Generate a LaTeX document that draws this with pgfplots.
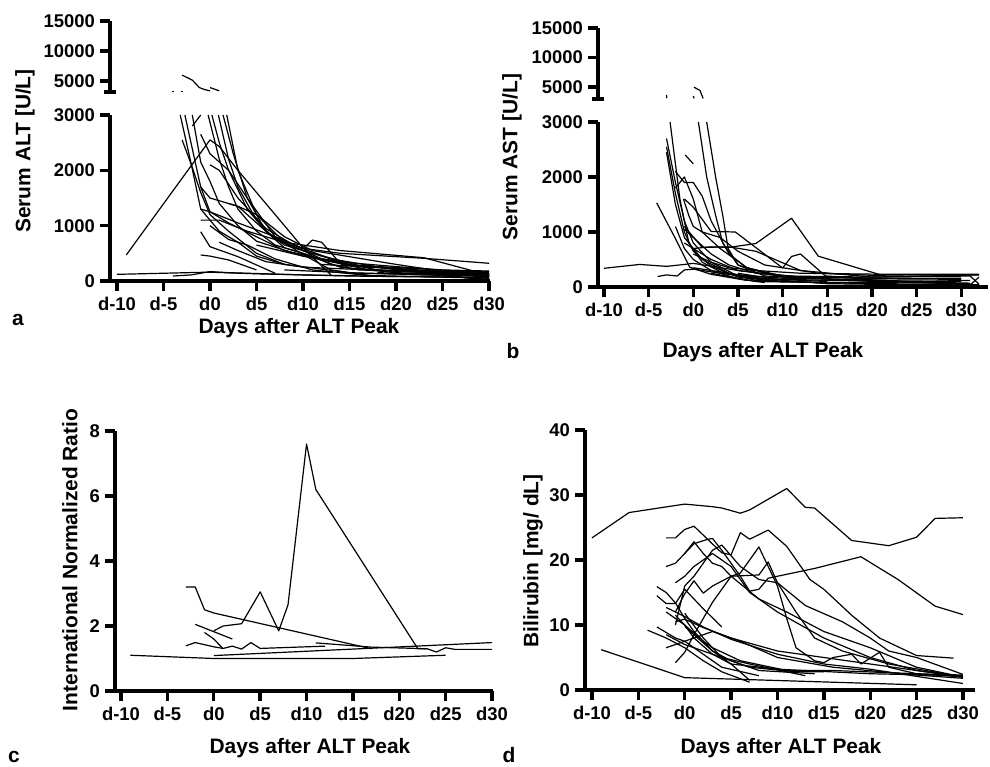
\documentclass[border=0pt]{standalone}
\usepackage{fontspec}
\setmainfont{Liberation Sans}
\usepackage{pgfplots}
\pgfplotsset{compat=1.18}

\pgfplotsset{
  prism/.style={
    scale only axis, axis lines=left,
    axis line style={line width=3.4bp,-},
    every tick/.style={line width=3.4bp, black},
    major tick length=10bp, tick align=outside,
    xtick={-10,-5,...,30},
    xticklabels={d-10,d-5,d0,d5,d10,d15,d20,d25,d30},
    ticklabel style={font=\fontsize{18.5}{20}\selectfont\bfseries, inner sep=1bp},
    xticklabel style={yshift=-5bp},
    yticklabel style={xshift=-4bp},
    /pgf/number format/assume math mode=true,
    /pgf/number format/1000 sep={},
    scaled y ticks=false,
    clip=true,
  },
  upper/.style={
    scale only axis, axis x line=none, axis y line=left,
    axis line style={line width=3.4bp,-},
    every tick/.style={line width=3.4bp, black},
    major tick length=10bp, tick align=outside,
    ytick={5000,10000,15000},
    extra y tick style={tick align=center, major tick length=12bp},
    extra y tick labels={},
    ticklabel style={font=\fontsize{18.5}{20}\selectfont\bfseries, inner sep=1bp},
    yticklabel style={xshift=-4bp},
    /pgf/number format/assume math mode=true,
    /pgf/number format/1000 sep={},
    scaled y ticks=false,
  },
  ln/.style={black, line width=1.2bp, line join=round},
}
\newcommand{\lab}{\fontsize{21}{24}\selectfont\bfseries}

\begin{document}
\begin{tikzpicture}
\path[use as bounding box] (0,0) rectangle (990bp,767bp);

% ---- a: ALT, lower part
\begin{axis}[prism, anchor=south west, at={(110bp,486bp)},
  width=380bp, height=166bp, xmin=-10.75, xmax=30.1,
  ymin=0, ymax=3000, ytick={0,1000,2000,3000}]
\addplot[ln] coordinates {(-9,470) (0,2550) (1,2430) (3,2000) (10,600) (13,110)};
\addplot[ln] coordinates {(-10,120) (-5,140) (0,160) (5,130) (15,90) (30,60)};
\addplot[ln] coordinates {(-4,90) (-2,110) (0,170) (2,150) (10,110) (20,80) (30,100)};
\addplot[ln] coordinates {(-3.2,3000) (-2,2100) (-1,1300) (1,900) (3,700) (5,450) (8,300) (15,150) (30,80)};
\addplot[ln] coordinates {(-2.7,3000) (-1,1700) (0,1250) (2,1050) (5,800) (8,550) (12,400) (17,200) (30,100)};
\addplot[ln] coordinates {(-1.9,3000) (-1,2150) (0,1800) (1,1400) (3,1000) (5,720) (10,450) (15,280) (30,120)};
\addplot[ln] coordinates {(-1.9,2800) (-1,3000)};
\addplot[ln] coordinates {(-0.2,3000) (1,2200) (2,1700) (3,1300) (5,900) (7,650) (10,500) (14,250) (20,150) (30,100)};
\addplot[ln] coordinates {(0.2,3000) (1,2500) (2,2000) (4,1300) (6,900) (8,600) (11,450) (13,300) (16,200) (30,120)};
\addplot[ln] coordinates {(0.9,3000) (2,2200) (3,1700) (5,1100) (7,750) (10,550) (15,300) (22,180) (30,140)};
\addplot[ln] coordinates {(1.4,3000) (2.5,2300) (4,1500) (6,900) (8,650) (11,500) (16,280) (30,150)};
\addplot[ln] coordinates {(1.8,3000) (3,2000) (5,1200) (8,700) (12,400) (18,200) (30,130)};
\addplot[ln] coordinates {(-1,2650) (0,2300) (1,2150) (2,2000) (4,1500) (7,800) (10,580) (11,740) (12,700) (14,320) (15,230) (30,90)};
\addplot[ln] coordinates {(-1,1300) (0,1250) (3,1050) (7,800) (10,590) (14,500) (23,410) (30,320)};
\addplot[ln] coordinates {(-1,1100) (1,1100) (4,900) (8,700) (14,550) (23,420) (29,150) (30,100)};
\addplot[ln] coordinates {(-1,890) (0,620) (3,440) (7,140)};
\addplot[ln] coordinates {(-1,470) (0,450) (2,380) (5,200)};
\addplot[ln] coordinates {(-3,2550) (-2,2100) (-1,1600) (0,1200) (2,900) (5,500) (8,300)};
\addplot[ln] coordinates {(0,2100) (1,2000) (3,1500) (6,950) (9,650) (13,400) (20,200) (30,80)};
\addplot[ln] coordinates {(-1,1700) (0,1500) (1,1450) (3,1350) (6,900) (10,480) (13,200) (18,80)};
\addplot[ln] coordinates {(0,1000) (2,750) (4,650) (7,400) (11,200) (17,100) (30,50)};
\addplot[ln] coordinates {(1,700) (3,550) (6,350) (10,250) (20,180) (30,170)};
\addplot[ln] coordinates {(2,1400) (3,1350) (5,1200) (8,800) (11,550) (20,300) (28,100) (30,60)};
\addplot[ln] coordinates {(5,650) (10,450) (15,330) (20,260) (25,200) (30,180)};
\addplot[ln] coordinates {(12,300) (20,220) (25,150) (30,100)};
\addplot[ln] coordinates {(18,150) (25,120) (28,50) (30,30)};
\addplot[ln] coordinates {(8,200) (16,140) (24,110) (30,20)};
\end{axis}
% ---- a: ALT, upper part
\begin{axis}[upper, anchor=south west, at={(110bp,675bp)},
  width=380bp, height=71bp, xmin=-10.75, xmax=30.1,
  ymin=3200, ymax=15000, extra y ticks={3200}]
\addplot[ln] coordinates {(-3,6000) (-1.9,5170) (-1.15,3940) (-0.6,3610) (0,3390)};
\addplot[ln] coordinates {(0,3940) (1,3390)};
\addplot[ln] coordinates {(-4.1,3230) (-3.9,3230)};
\addplot[ln] coordinates {(-3.1,3230) (-2.9,3230)};
\end{axis}

% ---- b: AST, lower part
\begin{axis}[prism, anchor=south west, at={(598bp,480bp)},
  width=390bp, height=165bp, xmin=-10.67, xmax=33,
  ymin=0, ymax=3000, ytick={0,1000,2000,3000}]
\addplot[ln] coordinates {(-10,340) (-6,410) (-3,375) (-1,410) (0,430) (2,380) (5,300) (10,200) (20,180) (32,220)};
\addplot[ln] coordinates {(-4,190) (-3,220) (-1.8,200) (-1,310) (0,325) (3,250) (8,150) (15,100)};
\addplot[ln] coordinates {(-4.1,1530) (-2,880) (-0.4,360) (2,230) (6,120)};
\addplot[ln] coordinates {(-2.6,3000) (-1.5,1600) (-0.5,800) (1,450) (3,280) (7,120) (14,80)};
\addplot[ln] coordinates {(-3,2700) (-2,1900) (-1,1200) (0,800) (2,450) (5,200) (10,100) (20,60) (30,50)};
\addplot[ln] coordinates {(-3,2550) (-2,1700) (-1,1000) (0,650) (2,380) (5,180) (10,90)};
\addplot[ln] coordinates {(-3,2450) (-2,1500) (-1,900) (1,500) (4,250) (8,150) (15,120) (25,100) (31,120)};
\addplot[ln] coordinates {(-2,2100) (-1,1900) (0,1900) (1,1650) (2,1200) (3,900) (4,600) (6,350) (10,200) (20,150) (30,160)};
\addplot[ln] coordinates {(-2,1800) (-1,2000) (0,1600) (1,1000) (3,700) (6,350) (10,180) (18,120) (30,100)};
\addplot[ln] coordinates {(-1.1,1600) (-0.5,1300) (0,1100) (1,1000) (3,900) (5,650) (8,400) (14,250) (22,200) (30,190)};
\addplot[ln] coordinates {(-0.9,2400) (0,2240)};
\addplot[ln] coordinates {(0.57,3000) (1.5,2000) (2.5,1300) (3.3,800) (5,400) (8,250) (12,180)};
\addplot[ln] coordinates {(1.5,3000) (2.5,2000) (3.3,1300) (3.9,700) (5,400) (8,200) (14,150)};
\addplot[ln] coordinates {(0,700) (2,730) (4,720) (7,790) (11,1250) (14,560) (21,220) (32,220)};
\addplot[ln] coordinates {(-1,1600) (0,1450) (2,1010) (4.7,1000) (7.3,680) (10,345) (11,555) (12,600) (14.8,200) (20,150) (30,140)};
\addplot[ln] coordinates {(-1,1050) (0,900) (2,600) (4,400) (7,250) (12,180) (22,160) (30,150)};
\addplot[ln] coordinates {(-1,800) (0,700) (2,500) (5,300) (10,200) (20,100) (31,60)};
\addplot[ln] coordinates {(-2,1100) (-1,700) (0,500) (2,300) (5,150) (8,80)};
\addplot[ln] coordinates {(0,350) (2,300) (5,220) (10,160) (20,130) (31,40) (32,180)};
\addplot[ln] coordinates {(0,600) (2,450) (4,350) (7,300) (12,250) (22,230) (32,230)};
\addplot[ln] coordinates {(-1,1100) (1,720) (4,730) (7,650) (12,300) (20,180) (31,200) (32,50)};
\addplot[ln] coordinates {(5,250) (10,120) (15,60) (25,40) (32,40)};
\addplot[ln] coordinates {(2,250) (7,100) (15,80) (25,90) (31,70)};
\end{axis}
% ---- b: AST, upper part
\begin{axis}[upper, anchor=south west, at={(598bp,668bp)},
  width=390bp, height=71bp, xmin=-10.67, xmax=33,
  ymin=3000, ymax=15000, extra y ticks={3000}]
\addplot[ln] coordinates {(0.07,5000) (0.75,4440) (1.1,3100)};
\addplot[ln] coordinates {(-3,3700) (-2.97,3150)};
\addplot[ln] coordinates {(0,3500) (0.1,3100)};
\end{axis}

% ---- c: INR
\begin{axis}[prism, anchor=south west, at={(115bp,76bp)},
  width=378bp, height=260bp, xmin=-10.65, xmax=30.1,
  ymin=0, ymax=8, ytick={0,2,4,6,8}]
\addplot[ln] coordinates {(-3,3.2) (-2,3.2) (-1,2.5) (0,2.4) (17,1.3)};
\addplot[ln] coordinates {(0,1.85) (1,2.0) (3,2.07) (5,3.05) (7,1.85) (8,2.65) (10,7.6) (11,6.2) (22,1.3) (23,1.3)};
\addplot[ln] coordinates {(-2,2.05) (2,1.6)};
\addplot[ln] coordinates {(-1,1.8) (0,1.6) (1,1.3)};
\addplot[ln] coordinates {(-3,1.39) (-2,1.49) (0,1.36) (1,1.31) (2,1.38) (3,1.29) (4,1.49) (5,1.31) (12,1.38)};
\addplot[ln] coordinates {(-9,1.1) (0,1.0) (15,1.0) (25,1.1)};
\addplot[ln] coordinates {(0,1.09) (30,1.49)};
\addplot[ln] coordinates {(11,1.48) (17,1.35) (23,1.3) (24,1.2) (25,1.33) (26,1.28) (30,1.28)};
\end{axis}

% ---- d: bilirubin
\begin{axis}[prism, anchor=south west, at={(585bp,77bp)},
  width=390bp, height=260bp, xmin=-10.75, xmax=31.3,
  ymin=0, ymax=40, ytick={0,10,20,30,40}]
\addplot[ln] coordinates {(-10,23.4) (-6,27.3) (0,28.6) (3,28.2) (4,28.0) (6,27.2) (7,27.7) (11,31.0) (13,28.1) (14,28.0) (18,23.0) (22,22.2) (25,23.5) (27,26.4) (30,26.5)};
\addplot[ln] coordinates {(-2,23.4) (-1,23.4) (0,24.7) (1,25.2) (4,21.1) (5,20.8) (6,24.2) (7,23.2) (9,24.6) (11,22.1) (13.5,17.0) (15,15.5) (18,11.5) (21,8) (25,5.3) (29,4.9)};
\addplot[ln] coordinates {(-2,19.0) (-1,19.5) (1,22.5) (2.5,23.2) (3,23.3) (4,21.5) (6,17.5) (7,15.2) (8,15.5) (9,17.2) (14,18.7) (19,20.5) (23,17) (27,12.9) (30,11.6)};
\addplot[ln] coordinates {(-1,4.2) (0,5.8) (1,8.5) (3,13.5) (5,17.5) (6,18) (8,22) (10,16) (11,11) (12,6.5) (14,4.5) (15,4.2) (16,5) (18,5.5) (19,4) (21,5.8) (22,3.5) (25,2.5) (30,2.3)};
\addplot[ln] coordinates {(-2,12.7) (-1,12.0) (0,14.8) (1,16.8) (2,14.9) (3,16) (5,17.5) (8,17.7) (9,19.7) (10,16.5) (12,12) (14,8) (17,6) (22,4) (30,2)};
\addplot[ln] coordinates {(0,21) (1,22.8) (2,21) (3,19.5) (4,19) (5,17.5) (8,14) (11,12) (15,9) (20,6.5) (25,3.5) (30,2)};
\addplot[ln] coordinates {(-1,10) (0,16) (1,17.5) (3,21.5) (4,22.3) (6,19) (8,17) (10,16.5) (13,13) (17,10.5) (20,8) (22,6) (25,5) (30,2.4)};
\addplot[ln] coordinates {(-1,16.5) (0,17.5) (1,19) (3,21) (5,19) (7,15) (10,12) (15,8) (20,5) (25,3) (30,2)};
\addplot[ln] coordinates {(-3,14.5) (-2,13.3) (-1,13.3) (0,15.5) (2,12.5) (4,9.7)};
\addplot[ln] coordinates {(-3,15.9) (-2,15.0) (-1,13.4) (0,11.0) (1,9) (3,6) (5,4.5) (8,3) (14,2.5)};
\addplot[ln] coordinates {(-9,6.2) (0,1.9) (25,0.8)};
\addplot[ln] coordinates {(-4,9.2) (-2,8.0) (0,6.5) (2,4.5) (4,2.8) (7,1.2)};
\addplot[ln] coordinates {(-3,9.7) (-1,8) (0,7.5) (2,5.5) (4,3.5) (8,2.2)};
\addplot[ln] coordinates {(-1,12) (0,11.3) (2,9.7) (5,7.8) (10,5.5) (15,4.0) (20,3.2) (30,1.0)};
\addplot[ln] coordinates {(-1,10.5) (0,10.9) (2,9.6) (5,8.0) (10,6.0) (15,5.0) (20,4.0) (25,3) (30,2)};
\addplot[ln] coordinates {(-2,6.5) (-1,7) (0,7.5) (2,8.5) (3,9) (6,7.5) (10,5) (16,3.5) (25,2.3) (30,1.8)};
\addplot[ln] coordinates {(-1,11.5) (0,10) (1,8) (3,5.5) (5,4) (10,3.2) (20,2.5) (30,2.2)};
\addplot[ln] coordinates {(-2,8.5) (0,7) (2,6) (4,5) (7,4) (13,2.2)};
\addplot[ln] coordinates {(0,11.8) (2,8) (4,5) (7,3.5) (12,2.8) (15,2.8)};
\addplot[ln] coordinates {(0,9.8) (1,8.5) (3,6) (5,4) (7,1.5)};
\addplot[ln] coordinates {(-2,12) (0,10) (2,7.5) (3,6.5) (6,4.5) (11,3) (16,3) (25,2.5) (30,2)};
\end{axis}

% ---- labels
\begin{scope}[every node/.style={font=\lab, inner sep=0pt}]
\node[rotate=90] at (25bp,616bp) {Serum ALT [U/L]};
\node[rotate=90] at (512bp,610bp) {Serum AST [U/L]};
\node[rotate=90] at (70bp,207bp) {International Normalized Ratio};
\node[rotate=90] at (533bp,206bp) {Bilirubin [mg/ dL]};
\node at (299bp,439bp) {Days after ALT Peak};
\node at (763bp,415bp) {Days after ALT Peak};
\node at (310bp,19bp) {Days after ALT Peak};
\node at (781bp,19bp) {Days after ALT Peak};
\node at (18bp,447bp) {a};
\node at (513bp,416bp) {b};
\node at (14bp,10bp) {c};
\node at (509bp,12bp) {d};
\end{scope}
\end{tikzpicture}
\end{document}
